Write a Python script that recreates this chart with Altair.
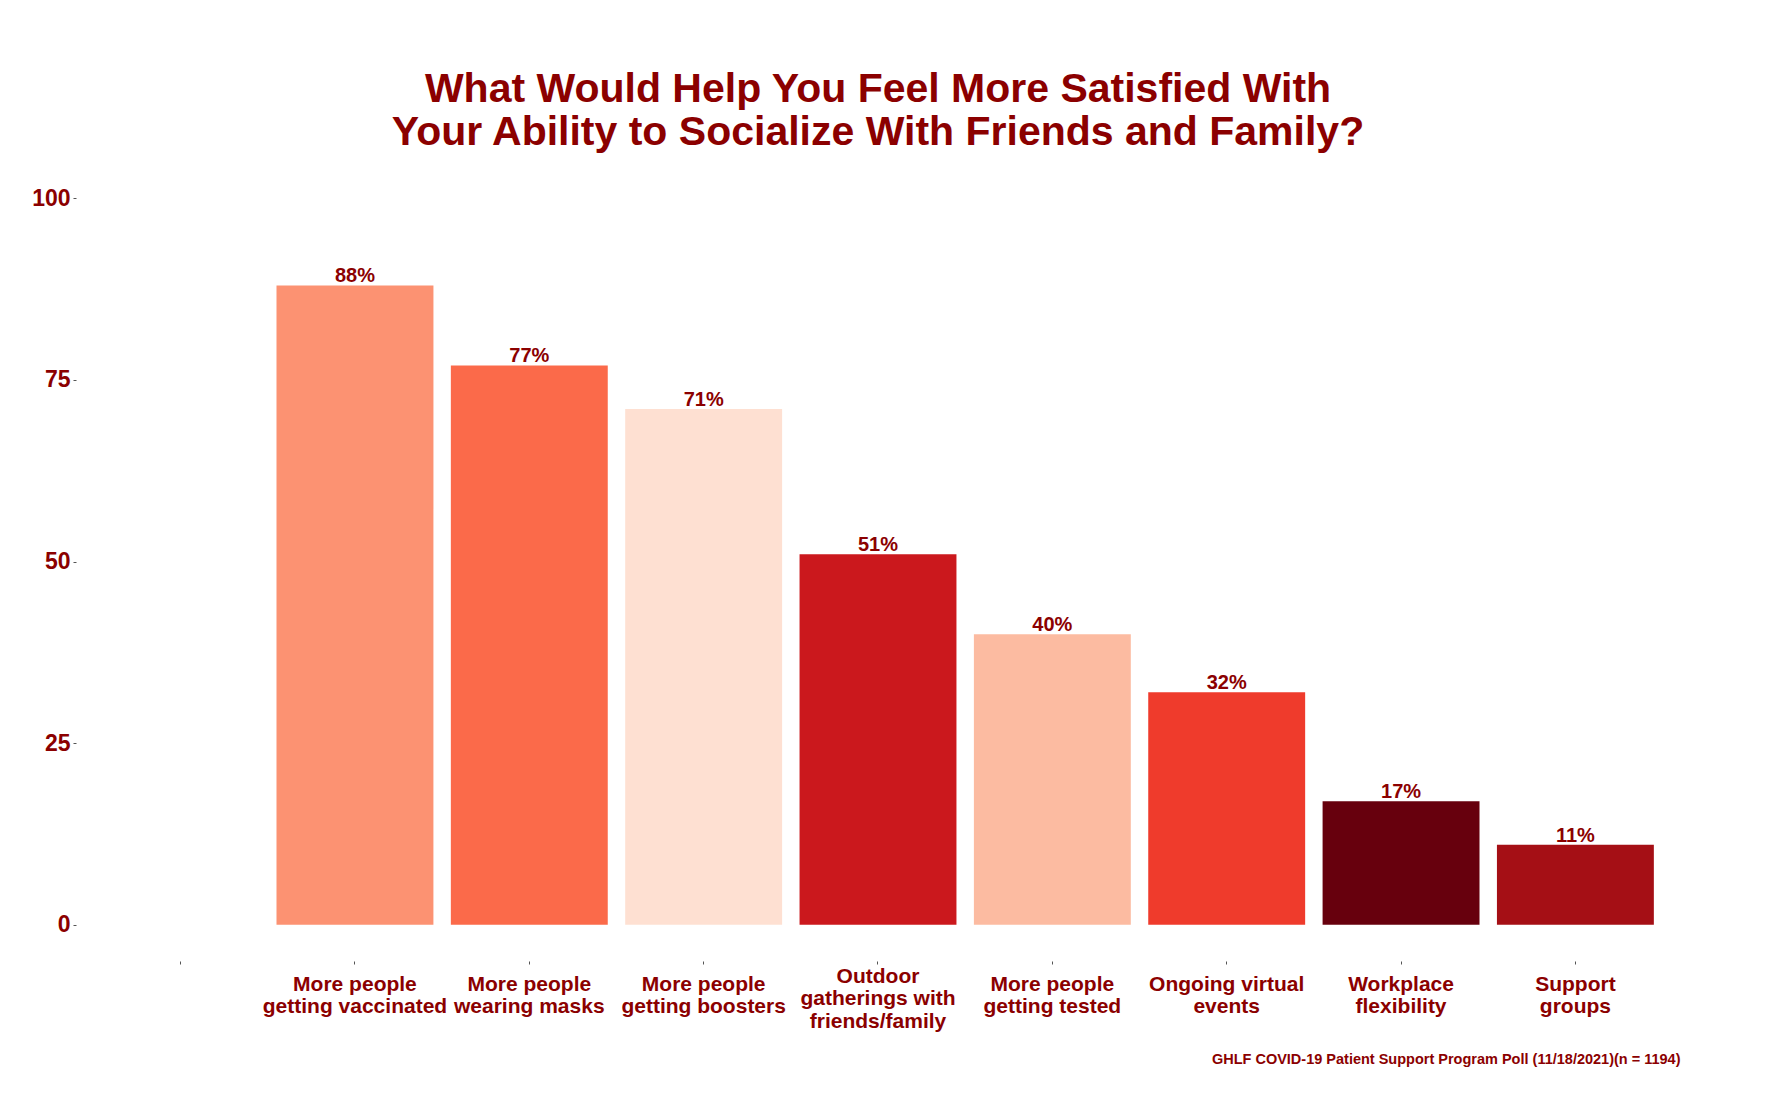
import altair as alt
import pandas as pd

# ---- data ----
categories = [
    " ",
    "More people\ngetting vaccinated",
    "More people\nwearing masks",
    "More people\ngetting boosters",
    "Outdoor\ngatherings with\nfriends/family",
    "More people\ngetting tested",
    "Ongoing virtual\nevents",
    "Workplace\nflexibility",
    "Support\ngroups",
]
bar_categories = categories[1:]
values = [88, 77, 71, 51, 40, 32, 17, 11]
palette = ["#FC9272", "#FB6A4A", "#FEE0D2", "#CB181D", "#FCBBA1", "#EF3B2C", "#67000D", "#A50F15"]
y_ticks = [0, 25, 50, 75, 100]
title_lines = [
    "What Would Help You Feel More Satisfied With",
    "Your Ability to Socialize With Friends and Family?",
]
caption = "GHLF COVID-19 Patient Support Program Poll (11/18/2021)(n = 1194)"

DARKRED = "#8B0000"
FONT = "Liberation Sans"

df = pd.DataFrame({"category": bar_categories, "value": values})
df["label"] = [f"{v}%" for v in values]

W, H = 1604, 799

x_scale = alt.Scale(domain=categories, paddingInner=0.1, paddingOuter=0.15)

x_enc = alt.X(
    "category:N",
    scale=x_scale,
    axis=alt.Axis(
        title=caption,
        titleFont=FONT, titleFontSize=14.5, titleFontWeight="bold", titleColor=DARKRED,
        titleAnchor="end", titleAlign="right", titleBaseline="middle",
        titleX=W, titleY=98,
        labelExpr="split(datum.label, '\\n')",
        labelFont=FONT, labelFontSize=21, labelFontWeight="bold", labelColor=DARKRED,
        labelAngle=0, labelBaseline="middle", labelLineHeight=22.5,
        labelPadding={
            "condition": {"test": "length(split(datum.label, '\\n')) > 2", "value": 12},
            "value": 20,
        },
        labelAlign="center", labelLimit=0, labelOverlap=False,
        domain=False, ticks=True, tickSize=3, tickColor="#555555", tickWidth=1,
        grid=False,
    ),
)

y_scale = alt.Scale(domain=[-5, 105], nice=False, zero=False)

bars = alt.Chart(df).mark_bar().encode(
    x=x_enc,
    y=alt.Y(
        "value:Q",
        scale=y_scale,
        axis=alt.Axis(
            title=None, values=y_ticks,
            labelFont=FONT, labelFontSize=23, labelFontWeight="bold", labelColor=DARKRED,
            labelPadding=3, domain=False, tickSize=3, tickColor="#555555", tickWidth=1,
            grid=False,
        ),
    ),
    y2=alt.datum(0),
    color=alt.Color("category:N", scale=alt.Scale(domain=bar_categories, range=palette), legend=None),
)

texts = alt.Chart(df).mark_text(
    font=FONT, fontSize=20, fontWeight="bold", color=DARKRED,
    baseline="alphabetic", align="center", dy=-3,
).encode(
    x=alt.X("category:N", scale=x_scale),
    y=alt.Y("value:Q", scale=y_scale),
    text="label:N",
)

chart = alt.layer(bars, texts).properties(
    width=W,
    height=H,
    title=alt.TitleParams(
        text=title_lines, font=FONT, fontSize=41, fontWeight="bold", color=DARKRED,
        anchor="middle", frame="group", lineHeight=43, offset=8,
    ),
    autosize=alt.AutoSizeParams(type="none"),
    padding={"left": 76, "top": 162, "right": 101, "bottom": 148},
    background="white",
).configure_view(stroke=None)

chart.save("out.html", embed_options={"renderer": "svg", "actions": False})
